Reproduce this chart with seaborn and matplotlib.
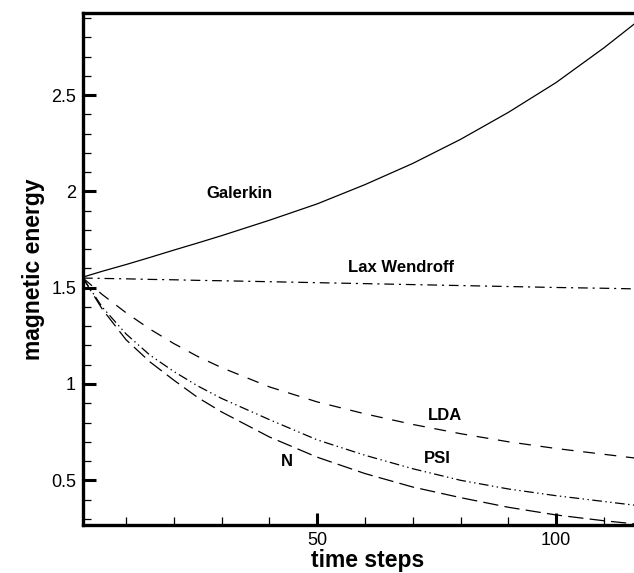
import numpy as np
import pandas as pd
import seaborn as sns
import matplotlib
matplotlib.use("Agg")
import matplotlib.pyplot as plt
from matplotlib.ticker import MultipleLocator

# values
steps = [1, 5, 10, 15, 20, 25, 30, 40, 50, 60, 70, 80, 90, 100, 110, 120]
galerkin = [1.555, 1.585, 1.62, 1.657, 1.695, 1.732, 1.77, 1.85, 1.935, 2.035, 2.145,
            2.27, 2.41, 2.565, 2.745, 2.94]
lax_wendroff = [1.55, 1.548, 1.546, 1.543, 1.541, 1.538, 1.536, 1.531, 1.526, 1.521,
                1.516, 1.511, 1.506, 1.501, 1.497, 1.492]
lda = [1.55, 1.465, 1.37, 1.285, 1.21, 1.143, 1.085, 0.985, 0.907, 0.845, 0.79,
       0.742, 0.70, 0.665, 0.635, 0.605]
psi = [1.55, 1.40, 1.26, 1.15, 1.065, 0.99, 0.925, 0.815, 0.71, 0.63, 0.56,
       0.50, 0.455, 0.42, 0.39, 0.36]
n_scheme = [1.55, 1.39, 1.23, 1.115, 1.02, 0.93, 0.855, 0.725, 0.62, 0.535, 0.465,
            0.41, 0.36, 0.32, 0.29, 0.265]

labels = ["Galerkin", "Lax Wendroff", "LDA", "PSI", "N"]
label_pos = [(33.8, 1.99), (67.5, 1.607), (76.7, 0.838), (75.1, 0.614), (43.7, 0.60)]

sns.set_style("ticks", {"axes.edgecolor": "black", "xtick.color": "black",
                        "ytick.color": "black", "text.color": "black",
                        "axes.labelcolor": "black"})
plt.rcParams['font.family'] = ['Liberation Sans', 'DejaVu Sans']
plt.rcParams['lines.scale_dashes'] = False

fig = plt.figure(figsize=(6.34, 5.73), dpi=100)
# axes run a bit past the right border, as in the cropped original
ax = fig.add_axes([0.1309, 0.0838, 0.897, 0.8935])

dashes = {
    "Galerkin": "",
    "Lax Wendroff": (7, 3.5, 1.5, 3.5),
    "LDA": (8.5, 7),
    "PSI": (7, 2.5, 1, 2.5, 1, 2.5),
    "N": (11, 4.5),
}
df = pd.DataFrame({
    "step": steps * 5,
    "energy": galerkin + lax_wendroff + lda + psi + n_scheme,
    "scheme": sum([[s] * len(steps) for s in labels], []),
})
sns.lineplot(data=df, x="step", y="energy", hue="scheme", style="scheme",
             palette=["black"] * 5, dashes=dashes, linewidth=0.9, legend=False, ax=ax)

for txt, (x, y) in zip(labels, label_pos):
    ax.text(x, y, txt, fontsize=12, fontweight="bold", ha="center", va="center")

ax.set_xlim(1, 120)
ax.set_ylim(0.268, 2.926)
ax.xaxis.set_major_locator(MultipleLocator(50))
ax.xaxis.set_minor_locator(MultipleLocator(10))
ax.yaxis.set_minor_locator(MultipleLocator(0.1))
ax.set_yticks([0.5, 1, 1.5, 2, 2.5])
ax.set_yticklabels(["0.5", "1", "1.5", "2", "2.5"])

ax.tick_params(which="major", direction="in", length=9, width=2.2, labelsize=13, pad=5)
ax.tick_params(which="minor", direction="in", length=6, width=0.9)
for sp in ax.spines.values():
    sp.set_linewidth(2.4)

ax.set_xlabel("time steps", fontsize=16.5, fontweight="bold", labelpad=0)
ax.set_ylabel("magnetic energy", fontsize=16.5, fontweight="bold", labelpad=4)

plt.savefig("out.png", dpi=100)
